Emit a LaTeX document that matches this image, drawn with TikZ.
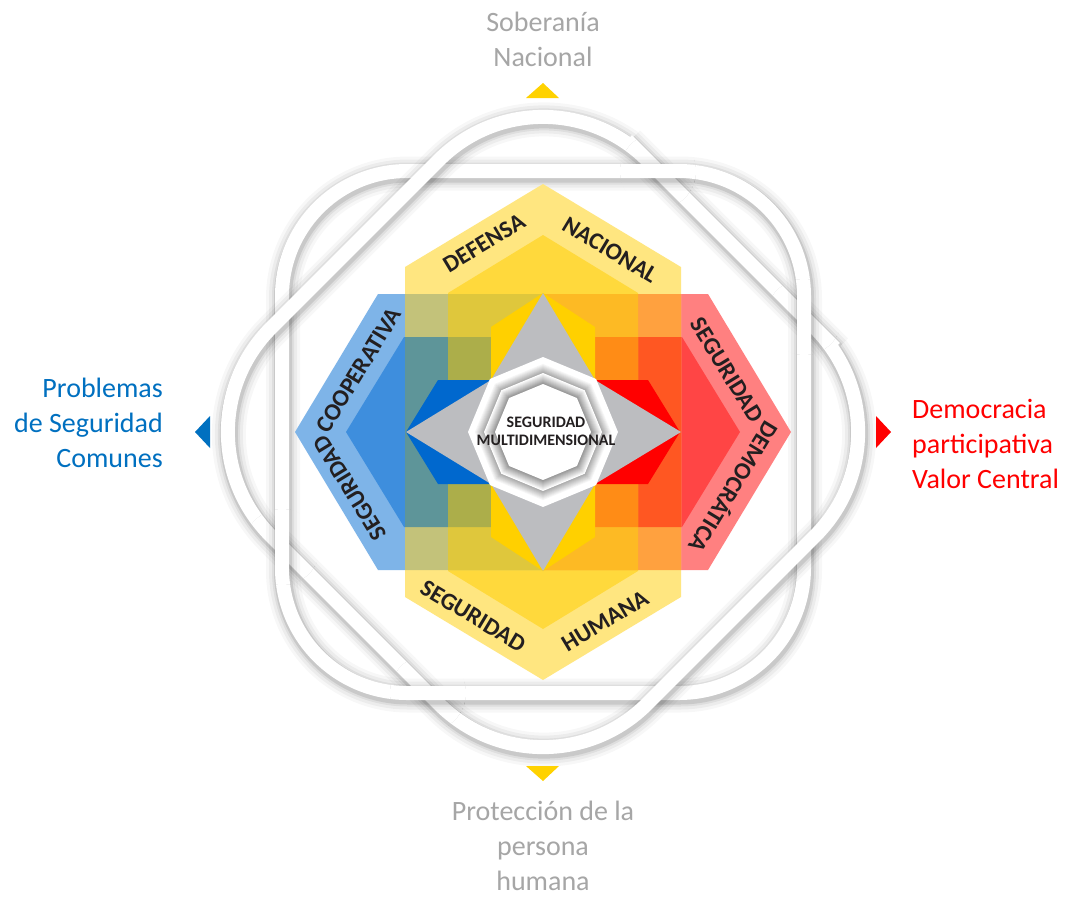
\documentclass[tikz,border=0pt]{standalone}
\usepackage{fontspec}
\setmainfont{Carlito}
\definecolor{Yl}{HTML}{FFE680}
\definecolor{Yd}{HTML}{FFD93C}
\definecolor{Bl}{HTML}{7EB4E8}
\definecolor{Bd}{HTML}{3E8EDD}
\definecolor{Rl}{HTML}{FF8080}
\definecolor{Rd}{HTML}{FF4545}
\definecolor{BlYl}{HTML}{C3C27A}
\definecolor{BdYl}{HTML}{5E9599}
\definecolor{BlYd}{HTML}{DFC73C}
\definecolor{BdYd}{HTML}{ACAE4A}
\definecolor{RlYl}{HTML}{FFA13F}
\definecolor{RdYl}{HTML}{FF5722}
\definecolor{RlYd}{HTML}{FDBA24}
\definecolor{RdYd}{HTML}{FF8C16}
\definecolor{Yn}{HTML}{FFD000}
\definecolor{Bn}{HTML}{0068CE}
\definecolor{Rn}{HTML}{FF0000}
\definecolor{Gs}{HTML}{BCBDC0}
\definecolor{labc}{HTML}{231F20}
\definecolor{grayt}{HTML}{A6A6A6}
\definecolor{bluet}{HTML}{0070C0}
\definecolor{redt}{HTML}{FF0000}
\definecolor{gold}{HTML}{FFD200}
\newcommand\bandAxis{%
  \foreach \w/\o in {34/0.03,28/0.045,22/0.06,18/0.09}{%
    \draw[line width=\w pt, black, opacity=\o, rounded corners=125pt, shift={(1,2.5)}] (282,171) rectangle (804,693);}%
  \draw[line width=14pt, white, rounded corners=125pt] (282,171) rectangle (804,693);}
\newcommand\bandDiam{%
  \foreach \w/\o in {34/0.03,28/0.045,22/0.06,18/0.09}{%
    \draw[line width=\w pt, black, opacity=\o, rounded corners=147pt, shift={(1,2.5)}] (731,244) -- (919,432) -- (543,808) -- (167,432) -- (543,56) -- cycle;}%
  \draw[line width=14pt, white, rounded corners=147pt] (731,244) -- (919,432) -- (543,808) -- (167,432) -- (543,56) -- cycle;}
\newcommand\octfill[2]{\fill[#2, shift={(543,432)}] (90:#1) -- (135:#1) -- (180:#1) -- (225:#1) -- (270:#1) -- (315:#1) -- (360:#1) -- (45:#1) -- cycle;}
\begin{document}
\begin{tikzpicture}[x=1pt,y=-1pt,
  vout/.style={insert path={(0,-248) -- (138,-165) -- (138,165) -- (0,248) -- (-138,165) -- (-138,-165) -- cycle}},
  vin/.style={insert path={(0,-197) -- (95,-139) -- (95,139) -- (0,197) -- (-95,139) -- (-95,-139) -- cycle}},
  hol/.style={insert path={(-248,0) -- (-165,-138) -- (0,-138) -- (0,138) -- (-165,138) -- cycle}},
  hor/.style={insert path={(248,0) -- (165,-138) -- (0,-138) -- (0,138) -- (165,138) -- cycle}},
  hil/.style={insert path={(-197,0) -- (-139,-95) -- (0,-95) -- (0,95) -- (-139,95) -- cycle}},
  hir/.style={insert path={(197,0) -- (139,-95) -- (0,-95) -- (0,95) -- (139,95) -- cycle}},
  lab/.style={font=\bfseries\fontsize{24}{24}\selectfont, text=labc, inner sep=0pt, text height=15.5pt, text depth=0pt},
  outt/.style={font=\fontsize{28}{34}\selectfont, inner sep=0pt}]
\useasboundingbox[fill=white] (0,0) rectangle (1069,898);
% interlaced bands
\bandAxis
\bandDiam
\foreach \p in {(658,171),(804,317),(428,693),(282,547)}{%
  \begin{scope}
    \clip \p circle (38);
    \fill[white] \p circle (38);
    \bandDiam
    \bandAxis
  \end{scope}}
% markers
\fill[gold] (526,98) -- (559,98) -- (543,83) -- cycle;
\fill[gold] (526,766) -- (559,766) -- (543,781) -- cycle;
\fill[bluet] (210,416) -- (210,448) -- (195,432) -- cycle;
\fill[redt] (876,416) -- (876,448) -- (891,432) -- cycle;
% hexagons
\begin{scope}[shift={(543,432)}]
  \fill[Bl, hol]; \fill[Rl, hor];
  \fill[Bd, hil]; \fill[Rd, hir];
  \fill[Yl, vout];
  \fill[Yd, vin];
  \begin{scope}
    \clip[vout];
    \fill[BlYl, hol]; \fill[RlYl, hor];
    \fill[BdYl, hil]; \fill[RdYl, hir];
  \end{scope}
  \begin{scope}
    \clip[vin];
    \fill[BlYd, hol]; \fill[RlYd, hor];
    \fill[BdYd, hil]; \fill[RdYd, hir];
  \end{scope}
  \fill[Yn] (0,-139) -- (52,-105) -- (52,105) -- (0,139) -- (-52,105) -- (-52,-105) -- cycle;
  \fill[Bn] (-137,0) -- (-105,-52) -- (0,-52) -- (0,52) -- (-105,52) -- cycle;
  \fill[Rn] (137,0) -- (105,-52) -- (0,-52) -- (0,52) -- (105,52) -- cycle;
  \fill[Gs] (0,-139) -- (52,-52) -- (138,0) -- (52,52) -- (0,139) -- (-52,52) -- (-137,0) -- (-52,-52) -- cycle;
\end{scope}
% octagons
\octfill{75}{white}
\foreach \i in {0,...,10}{%
  \pgfmathsetmacro\rr{69-\i*0.95}\pgfmathsetmacro\pp{\i*3.4}%
  \octfill{\rr}{black!\pp}}
\foreach \i in {0,...,10}{%
  \pgfmathsetmacro\rr{59-\i*1.0}\pgfmathsetmacro\pp{\i*4}%
  \octfill{\rr}{black!\pp}}
\octfill{48}{white}
% labels
\node[lab, rotate=31] (defensa) at (484,243) {DEFENSA};
\node[lab, rotate=-31] (nacional) at (610,250) {NACIONAL};
\node[lab, rotate=-31] (seghum) at (473,616) {SEGURIDAD};
\node[lab, rotate=31] (humana) at (605,621) {HUMANA};
\node[lab, rotate=58.5] (coop) at (359,370) {COOPERATIVA};
\node[lab, rotate=121.5] (segcoop) at (350,488) {SEGURIDAD};
\node[lab, rotate=-58.5] (segdem) at (727,370) {SEGURIDAD};
\node[lab, rotate=-121.5] (democ) at (733,487) {DEMOCRÁTICA};
\node[font=\bfseries\fontsize{16}{18}\selectfont, align=center, text=labc, inner sep=0pt] (multi) at (546,431) {SEGURIDAD\\MULTIDIMENSIONAL};
% outer texts
\node[outt, text=grayt, anchor=base] (sob1) at (543,31) {Soberanía};
\node[outt, text=grayt, anchor=base] (sob2) at (543,66) {Nacional};
\node[outt, text=bluet, anchor=base east] (prob1) at (163,397) {Problemas};
\node[outt, text=bluet, anchor=base east] (prob2) at (163,432) {de Seguridad};
\node[outt, text=bluet, anchor=base east] (prob3) at (163,467) {Comunes};
\node[outt, text=redt, anchor=base west] (dem1) at (912,418) {Democracia};
\node[outt, text=redt, anchor=base west] (dem2) at (912,453) {participativa};
\node[outt, text=redt, anchor=base west] (dem3) at (912,488) {Valor Central};
\node[outt, text=grayt, anchor=base] (prot1) at (543,820) {Protección de la};
\node[outt, text=grayt, anchor=base] (prot2) at (543,855) {persona};
\node[outt, text=grayt, anchor=base] (prot3) at (543,890) {humana};
\end{tikzpicture}
\end{document}
